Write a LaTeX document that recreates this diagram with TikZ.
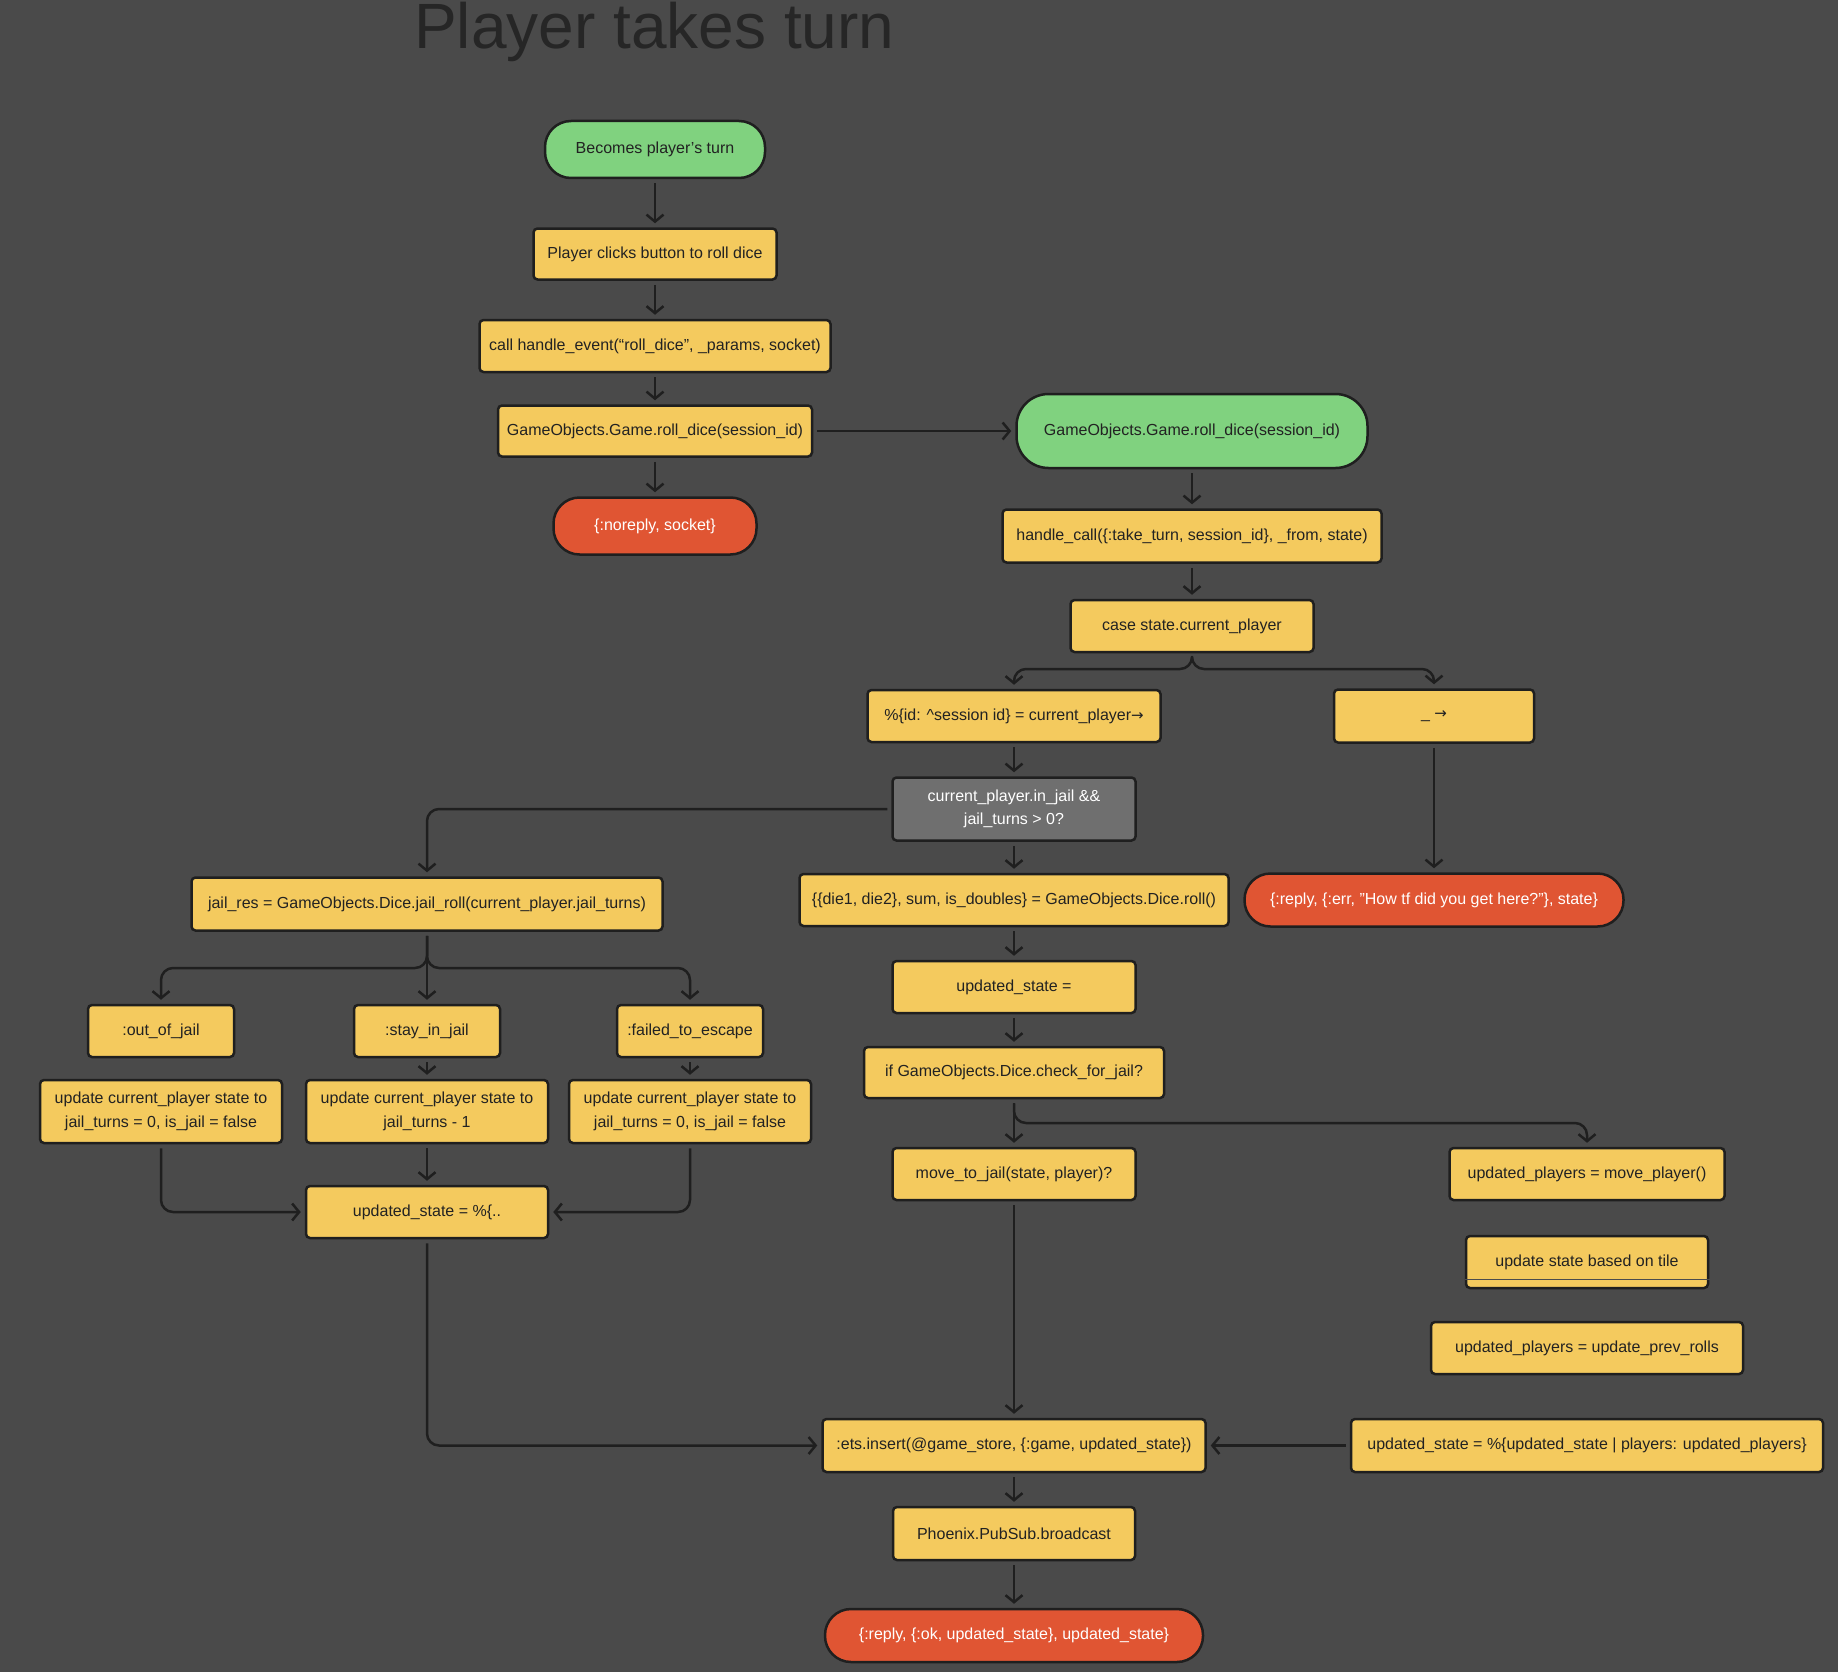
\documentclass[tikz,border=0pt]{standalone}
\usepackage{fontspec}
\setmainfont{Liberation Sans}
\newfontfamily\arrfont{DejaVu Sans}
\usetikzlibrary{arrows.meta}
\definecolor{bg}{HTML}{4A4A4A}
\definecolor{yel}{HTML}{F4CA5E}
\definecolor{grn}{HTML}{80D27F}
\definecolor{redb}{HTML}{E05533}
\definecolor{gryb}{HTML}{6F6F6F}
\definecolor{bd}{HTML}{1F1F1F}
\definecolor{txt}{HTML}{222222}
\definecolor{ttl}{HTML}{262626}
\newcommand{\rarr}{{\arrfont\fontsize{15}{15}\selectfont →}}
\tikzset{
  box/.style={draw=bd, line width=2.5pt, rounded corners=4pt, fill=yel, text=txt,
    font=\fontsize{16}{23.5}\selectfont, inner sep=0pt, align=center},
  pill/.style={box, rounded corners=26pt},
  greenpill/.style={pill, fill=grn},
  redpill/.style={pill, fill=redb, text=white},
  graybox/.style={box, fill=gryb, text=white},
  conn/.style={draw=bd, line width=2.5pt, rounded corners=12pt, line join=round,
    shorten >=4pt, shorten <=4pt, -{Straight Barb[length=7pt,width=17pt]}}
}
\begin{document}
\begin{tikzpicture}[x=1pt,y=-1pt]
\useasboundingbox (0,0) rectangle (1838,1672);
\fill[bg] (0,0) rectangle (1838,1672);

\node[anchor=base west, text=ttl, font=\fontsize{64}{70}\selectfont, inner sep=0pt] (title) at (414,49) {Player takes turn};

% left column
\node[greenpill, minimum width=220pt, minimum height=57pt] (n1) at (655,149.5) {Becomes player’s turn};
\node[box, minimum width=243pt, minimum height=51pt] (n2) at (655,254) {Player clicks button to roll dice};
\node[box, minimum width=351pt, minimum height=52pt] (n3) at (655,346) {call handle\_event(“roll\_dice”, \_params, socket)};
\node[box, minimum width=314pt, minimum height=51pt] (n4) at (655,431) {GameObjects.Game.roll\_dice(session\_id)};
\node[redpill, minimum width=203pt, minimum height=57pt] (n5) at (655,526) {\{:noreply, socket\}};

% server side
\node[greenpill, rounded corners=32pt, minimum width=351pt, minimum height=74pt] (n6) at (1192,431) {GameObjects.Game.roll\_dice(session\_id)};
\node[box, minimum width=379pt, minimum height=53pt] (n7) at (1192,536) {handle\_call(\{:take\_turn, session\_id\}, \_from, state)};
\node[box, minimum width=243pt, minimum height=52pt] (n8) at (1192,626) {case state.current\_player};
\node[box, minimum width=293pt, minimum height=52pt] (n9) at (1014,716) {\%\{id: \^{}session id\} = current\_player\rarr};
\node[box, minimum width=200pt, minimum height=53pt] (n10) at (1434,716) {\_ \rarr};
\node[graybox, minimum width=243pt, minimum height=63pt] (n11) at (1014,809) {current\_player.in\_jail \&\&\\jail\_turns > 0?};
\node[box, minimum width=471pt, minimum height=53pt] (n12) at (427,904) {jail\_res = GameObjects.Dice.jail\_roll(current\_player.jail\_turns)};
\node[box, minimum width=429pt, minimum height=52pt] (n13) at (1014,900) {\{\{die1, die2\}, sum, is\_doubles\} = GameObjects.Dice.roll()};
\node[redpill, minimum width=379pt, minimum height=53pt] (n14) at (1434,900) {\{:reply, \{:err, "How tf did you get here?"\}, state\}};

% jail branch
\node[box, minimum width=146pt, minimum height=52pt] (n15) at (161,1031) {:out\_of\_jail};
\node[box, minimum width=146pt, minimum height=52pt] (n16) at (427,1031) {:stay\_in\_jail};
\node[box, minimum width=146pt, minimum height=52pt] (n17) at (690,1031) {:failed\_to\_escape};
\node[box, minimum width=242pt, minimum height=63pt] (n18) at (161,1111.5) {update current\_player state to\\jail\_turns = 0, is\_jail = false};
\node[box, minimum width=242pt, minimum height=63pt] (n19) at (427,1111.5) {update current\_player state to\\jail\_turns - 1};
\node[box, minimum width=242pt, minimum height=63pt] (n20) at (690,1111.5) {update current\_player state to\\jail\_turns = 0, is\_jail = false};
\node[box, minimum width=242pt, minimum height=52pt] (n21) at (427,1212) {updated\_state = \%\{..};

% roll branch
\node[box, minimum width=243pt, minimum height=52pt] (n22) at (1014,987) {updated\_state =};
\node[box, minimum width=300pt, minimum height=51pt] (n23) at (1014,1072.5) {if GameObjects.Dice.check\_for\_jail?};
\node[box, minimum width=243pt, minimum height=52pt] (n24) at (1014,1174) {move\_to\_jail(state, player)?};
\node[box, minimum width=275pt, minimum height=52pt] (n25) at (1587,1174) {updated\_players = move\_player()};
\node[box, minimum width=242pt, minimum height=52pt] (n26) at (1587,1262) {update state based on tile};
\node[box, minimum width=312pt, minimum height=52pt] (n27) at (1587,1348) {updated\_players = update\_prev\_rolls};
\node[box, minimum width=383pt, minimum height=53pt] (n28) at (1014,1445.5) {:ets.insert(@game\_store, \{:game, updated\_state\})};
\node[box, minimum width=472pt, minimum height=53pt] (n29) at (1587,1445.5) {updated\_state = \%\{updated\_state | players: updated\_players\}};
\node[box, minimum width=242pt, minimum height=53pt] (n30) at (1014,1533.5) {Phoenix.PubSub.broadcast};
\node[redpill, minimum width=378pt, minimum height=53pt] (n31) at (1014,1635.5) {\{:reply, \{:ok, updated\_state\}, updated\_state\}};

% thin line inside tile box
\coordinate (tl1) at (1465,1279);
\coordinate (tl2) at (1710,1279);
\draw[line width=1pt, draw=black!70] (tl1) -- (tl2);

% branch points
\coordinate (b8) at (1192,669);
\coordinate (b12) at (427,968);
\coordinate (b23) at (1014,1123);

% connectors
\draw[conn] (n1.south) -- (n2.north);
\draw[conn] (n2.south) -- (n3.north);
\draw[conn] (n3.south) -- (n4.north);
\draw[conn] (n4.south) -- (n5.north);
\draw[conn] (n4.east) -- (n6.west);
\draw[conn] (n6.south) -- (n7.north);
\draw[conn] (n7.south) -- (n8.north);
\draw[conn] (n8.south) -- (b8) -| (n9.north);
\draw[conn] (n8.south) -- (b8) -| (n10.north);
\draw[conn] (n9.south) -- (n11.north);
\draw[conn] (n11.west) -| (n12.north);
\draw[conn] (n11.south) -- (n13.north);
\draw[conn] (n10.south) -- (n14.north);
\draw[conn] (n12.south) -- (b12) -| (n15.north);
\draw[conn] (n12.south) -- (n16.north);
\draw[conn] (n12.south) -- (b12) -| (n17.north);
\draw[conn] (n16.south) -- (n19.north);
\draw[conn] (n17.south) -- (n20.north);
\draw[conn] (n18.south) |- (n21.west);
\draw[conn] (n19.south) -- (n21.north);
\draw[conn] (n20.south) |- (n21.east);
\draw[conn] (n21.south) |- (n28.west);
\draw[conn] (n13.south) -- (n22.north);
\draw[conn] (n22.south) -- (n23.north);
\draw[conn] (n23.south) -- (n24.north);
\draw[conn] (n23.south) -- (b23) -| (n25.north);
\draw[conn] (n24.south) -- (n28.north);
\draw[conn] (n29.west) -- (n28.east);
\draw[conn] (n28.south) -- (n30.north);
\draw[conn] (n30.south) -- (n31.north);
\end{tikzpicture}
\end{document}
